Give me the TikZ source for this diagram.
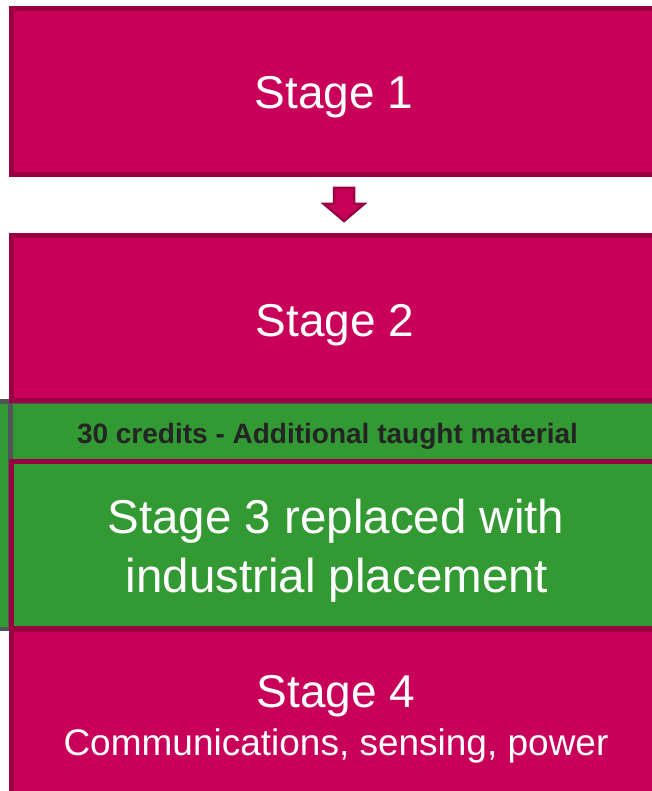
\documentclass[tikz,border=0pt]{standalone}
\usepackage{fontspec}
\setmainfont{Liberation Sans}
\definecolor{mag}{HTML}{C8005A}
\definecolor{magdark}{HTML}{990042}
\definecolor{grn}{HTML}{339933}
\definecolor{gry}{HTML}{50555B}
\definecolor{txtdark}{HTML}{242424}
\begin{document}
\begin{tikzpicture}[x=1pt,y=-1pt,
  stagebox/.style={draw=magdark, line width=5pt, fill=mag, rectangle, inner sep=0pt, anchor=north west},
  greenbox/.style={draw=magdark, line width=5pt, fill=grn, rectangle, inner sep=0pt, anchor=north west},
  bigtxt/.style={text=white, font=\fontsize{46}{55}\selectfont, inner sep=0pt, anchor=base},
  midtxt/.style={text=white, font=\fontsize{37}{44}\selectfont, inner sep=0pt, anchor=base},
  bandtxt/.style={text=txtdark, font=\fontsize{28}{33}\selectfont\bfseries, inner sep=0pt, anchor=base}]
\useasboundingbox (0,0) rectangle (652,791);
\clip (0,0) rectangle (652,791);
% green band (behind stage 2)
\draw[draw=gry, line width=4.5pt, fill=grn] (-20,401.5) rectangle (720,629);
\draw[draw=gry, line width=5pt] (10,401.5) -- (10,629);
% stage 1
\node[stagebox, minimum width=700pt, minimum height=166pt] (s1) at (9,6) {};
\node[bigtxt] (t1) at (334,109) {Stage 1};
% stage 2
\node[stagebox, minimum width=700pt, minimum height=165pt] (s2) at (9,233) {};
\node[bigtxt] (t2) at (335,336) {Stage 2};
% arrow between stage 1 and stage 2
\draw[draw=magdark, fill=mag, line width=2.5pt, line join=miter]
  (334,188) -- (354,188) -- (354,204) -- (364,204) -- (344,221) -- (324,204) -- (334,204) -- cycle;
\node[bandtxt] (band) at (327.5,443) {30 credits - Additional taught material};
% stage 3
\node[greenbox, minimum width=700pt, minimum height=167pt] (s3) at (9,459) {};
\node[bigtxt, font=\fontsize{47.5}{57}\selectfont] (t3a) at (336,533) {Stage 3 replaced with};
\node[bigtxt, font=\fontsize{47.5}{57}\selectfont] (t3b) at (337,592) {industrial placement};
% stage 4
\node[stagebox, minimum width=700pt, minimum height=250pt] (s4) at (9,627) {};
\node[bigtxt] (t4) at (336,707) {Stage 4};
\node[midtxt] (t4b) at (336,755) {Communications, sensing, power};
\end{tikzpicture}
\end{document}
